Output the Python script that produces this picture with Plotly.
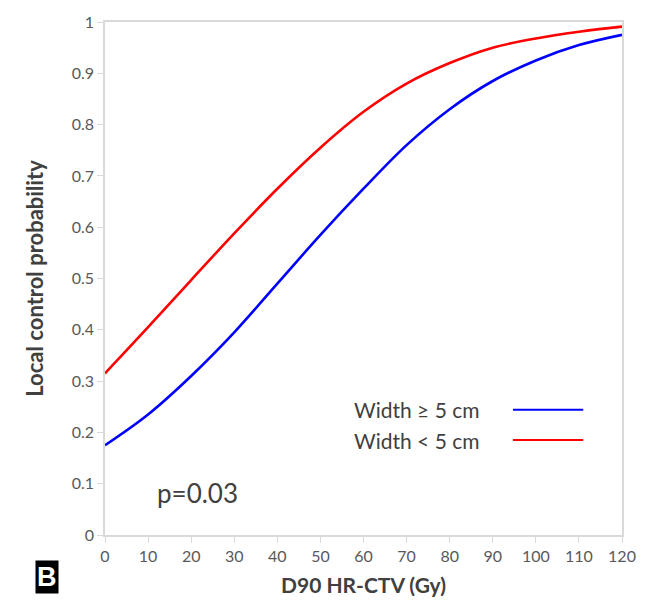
import plotly.graph_objects as go

dose = [0, 10, 20, 30, 40, 50, 60, 70, 80, 90, 100, 110, 120]
width_ge5 = [0.175, 0.235, 0.31, 0.395, 0.49, 0.585, 0.675, 0.76, 0.83, 0.885, 0.925, 0.955, 0.975]
width_lt5 = [0.315, 0.405, 0.497, 0.588, 0.675, 0.755, 0.825, 0.88, 0.92, 0.95, 0.968, 0.981, 0.991]
series_names = ["Width \u2265 5 cm", "Width < 5 cm"]
series_colors = ["#0000ff", "#ff0000"]
x_ticks = list(range(0, 121, 10))
y_ticks = [0, 0.1, 0.2, 0.3, 0.4, 0.5, 0.6, 0.7, 0.8, 0.9, 1]
y_ticklabels = ["0", "0.1", "0.2", "0.3", "0.4", "0.5", "0.6", "0.7", "0.8", "0.9", "1"]

fig = go.Figure()
for vals, name, col in zip([width_ge5, width_lt5], series_names, series_colors):
    fig.add_trace(go.Scatter(x=dose, y=vals, mode="lines", name=name,
                             line=dict(color=col, width=2.6, shape="spline", smoothing=1.0),
                             showlegend=False))

FONT = "Lato, 'Open Sans', sans-serif"
axis_common = dict(showline=True, linecolor="#d9d9d9", linewidth=1.5, mirror=True,
                   showgrid=False, zeroline=False, ticks="outside", ticklen=6,
                   tickcolor="#d9d9d9", automargin=False,
                   tickfont=dict(family=FONT, size=16, color="#595959"))

fig.update_layout(
    width=636, height=594,
    margin=dict(l=97, r=22, t=14, b=67),
    plot_bgcolor="white", paper_bgcolor="white",
    xaxis=dict(range=[0, 120], tickvals=x_ticks,
               title=dict(text="<b>D90 HR-CTV (Gy)</b>", font=dict(family=FONT, size=21, color="#404040"), standoff=14),
               **axis_common),
    yaxis=dict(range=[0, 1], tickvals=y_ticks, ticktext=y_ticklabels,
               title=dict(text="<b>Local control probability</b>", font=dict(family=FONT, size=22, color="#404040"), standoff=22),
               **axis_common),
)

# legend drawn on the right side of the text (as in the reference)
leg_y = [0.244, 0.185]
for name, col, yy in zip(series_names, series_colors, leg_y):
    fig.add_annotation(xref="paper", yref="paper", x=0.729, y=yy, text=name,
                       showarrow=False, xanchor="right", yanchor="middle",
                       font=dict(family=FONT, size=21, color="#404040"))
    fig.add_shape(type="line", xref="paper", yref="paper", x0=0.789, x1=0.925, y0=yy, y1=yy,
                  line=dict(color=col, width=2))

fig.add_annotation(xref="paper", yref="paper", x=0.178, y=0.082, text="p=0.03",
                   showarrow=False, xanchor="center", yanchor="middle",
                   font=dict(family=FONT, size=26, color="#404040"))

fig.add_annotation(xref="paper", yref="paper", x=-0.112, y=-0.082, text="<b>B</b>",
                   showarrow=False, xanchor="center", yanchor="middle",
                   bgcolor="black", borderpad=1,
                   font=dict(family="Liberation Sans, Arial, sans-serif", size=27, color="white"))

fig.write_html("out.html")
